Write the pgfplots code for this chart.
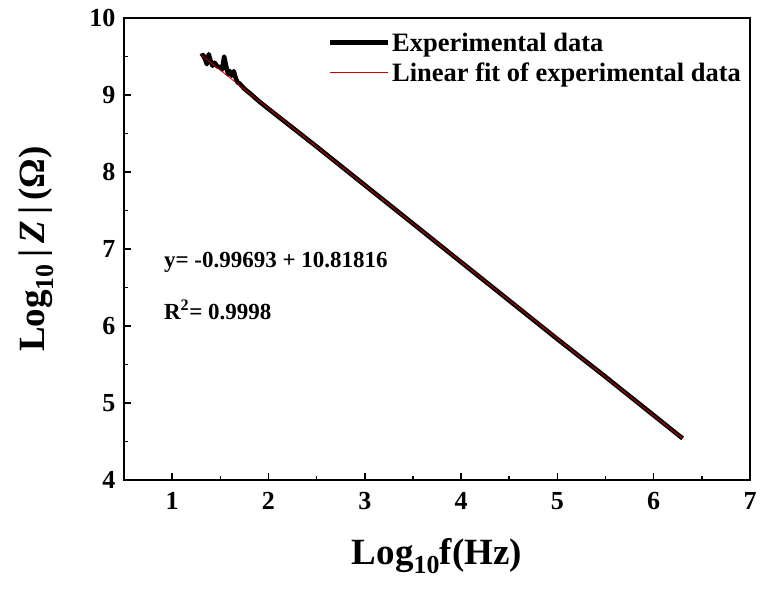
\documentclass[border=0pt]{standalone}
\usepackage{fontspec}
\setmainfont{Liberation Serif}
\usepackage{pgfplots}
\pgfplotsset{compat=1.18}

\begin{document}
\begin{tikzpicture}
\path[use as bounding box] (-124pt,-110pt) rectangle (639pt,480pt);
\begin{axis}[
  at={(0,0)}, anchor=south west,
  scale only axis,
  width=626pt, height=462pt,
  xmin=0.5, xmax=7, ymin=4, ymax=10,
  xtick={1,2,3,4,5,6,7}, ytick={4,5,6,7,8,9,10},
  minor x tick num=1, minor y tick num=1,
  tick pos=left,
  tick align=inside,
  major tick length=7pt, minor tick length=4pt,
  every tick/.style={black, line width=1.6pt},
  axis line style={line width=2.2pt},
  /pgf/number format/assume math mode=true,
  tick label style={font=\fontsize{26}{28}\selectfont\bfseries},
  xticklabel style={yshift=-9pt},
  yticklabel style={xshift=-5pt},
  xlabel={Log\textsubscript{10}f(Hz)},
  ylabel={Log\textsubscript{10}\,|\,\textit{Z}\,|\,(Ω)},
  label style={font=\fontsize{37}{39}\selectfont\bfseries},
  xlabel style={at={(axis description cs:0.5,-0.165)}, anchor=center},
  ylabel style={at={(axis description cs:-0.14,0.5)}, anchor=center},
  legend style={draw=none, fill=none, at={(0.325,0.975)}, anchor=north west,
    font=\fontsize{26.5}{28}\selectfont\bfseries, row sep=6pt,
    inner xsep=0pt, inner ysep=1pt},
  legend cell align=left,
  legend image code/.code={\draw[#1] (0pt,0pt) -- (58pt,0pt);},
]
\addplot[black, line width=4.5pt, line join=round] coordinates {
  (1.30,9.50)(1.32,9.52)(1.34,9.47)(1.36,9.40)(1.37,9.47)(1.38,9.53)
  (1.40,9.44)(1.42,9.38)(1.44,9.42)(1.47,9.37)(1.50,9.36)(1.52,9.33)
  (1.53,9.42)(1.54,9.50)(1.56,9.38)(1.58,9.27)(1.60,9.31)(1.62,9.25)
  (1.64,9.31)(1.66,9.22)(1.68,9.16)(1.70,9.15)(1.75,9.08)(1.80,9.03)
  (1.90,8.92)(2.00,8.82)(2.50,8.33)(3.00,7.83)(3.50,7.33)(4.00,6.83)
  (4.50,6.33)(5.00,5.83)(5.50,5.34)(6.00,4.84)(6.30,4.54)
};
\addlegendentry{Experimental data}
\addplot[red!80!black, line width=0.8pt] coordinates {
  (1.30,9.522)(2.00,8.824)(3.00,7.827)(4.00,6.830)(5.00,5.833)(6.00,4.837)(6.30,4.537)
};
\addlegendentry{Linear fit of experimental data}
\node[anchor=west, font=\fontsize{23}{25}\selectfont\bfseries] at (axis cs:0.88,6.83)
  {y= -0.99693 + 10.81816};
\node[anchor=west, font=\fontsize{23}{25}\selectfont\bfseries] at (axis cs:0.88,6.21)
  {R\textsuperscript{2}= 0.9998};
\end{axis}
\end{tikzpicture}
\end{document}
